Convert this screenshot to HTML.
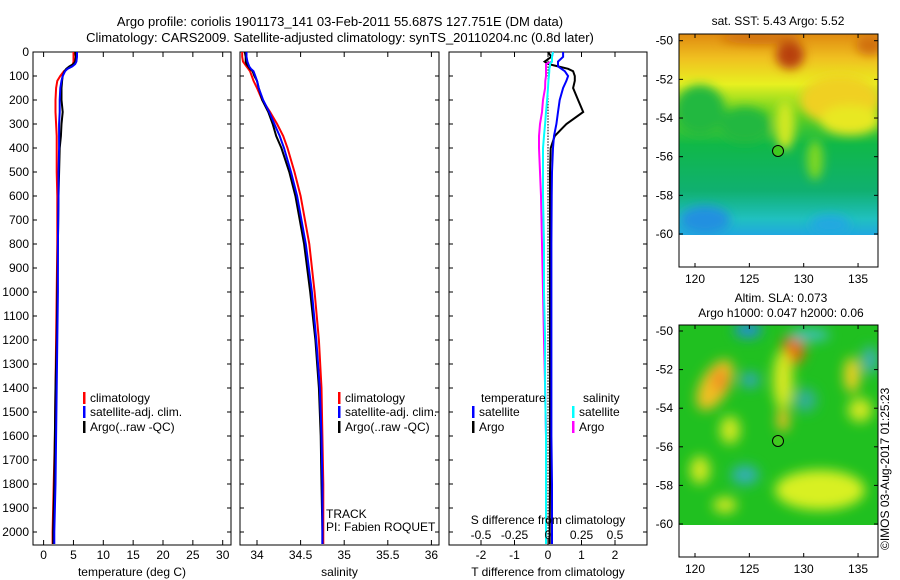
<!DOCTYPE html>
<html><head><meta charset="utf-8"><style>
html,body{margin:0;padding:0;background:#fff;}
svg{display:block;font-family:"Liberation Sans",sans-serif;}
text{font-size:12px;fill:#000;}
</style></head><body>
<svg id="fig" width="900" height="580" viewBox="0 0 900 580">
<defs>
<filter id="blur1" x="-20%" y="-20%" width="140%" height="140%"><feGaussianBlur stdDeviation="5"/></filter>
<filter id="blur2" x="-20%" y="-20%" width="140%" height="140%"><feGaussianBlur stdDeviation="6"/></filter>
<clipPath id="clipMap1"><rect x="679" y="34" width="199" height="201"/></clipPath>
<clipPath id="clipMap2"><rect x="679" y="325" width="199" height="200"/></clipPath>
<linearGradient id="sstGrad" x1="0" y1="0" x2="0" y2="1">
<stop offset="0" stop-color="#e08a10"/><stop offset="0.12" stop-color="#f0c020"/><stop offset="0.25" stop-color="#e8f020"/>
<stop offset="0.4" stop-color="#60d020"/><stop offset="0.55" stop-color="#10b848"/><stop offset="0.78" stop-color="#10b070"/>
<stop offset="0.92" stop-color="#20c0c0"/><stop offset="1" stop-color="#20a8e0"/></linearGradient>
</defs>
<g id="titles">
<text x="340" y="26" text-anchor="middle" style="font-size:13px">Argo profile: coriolis 1901173_141 03-Feb-2011 55.687S 127.751E (DM data)</text>
<text x="340" y="42" text-anchor="middle" style="font-size:13px">Climatology: CARS2009. Satellite-adjusted climatology: synTS_20110204.nc (0.8d later)</text>
</g>
<g id="panels"></g>

<g>
<text x="778" y="25" text-anchor="middle">sat. SST: 5.43 Argo: 5.52</text>
<g clip-path="url(#clipMap1)">
<rect x="679" y="34" width="199" height="201" fill="url(#sstGrad)"/>
<g filter="url(#blur1)">
<ellipse cx="840" cy="100" rx="40" ry="25" fill="#f0d020"/>
<ellipse cx="850" cy="120" rx="30" ry="15" fill="#e8e820"/>
<ellipse cx="790" cy="55" rx="14" ry="14" fill="#b84010"/>
<ellipse cx="870" cy="45" rx="14" ry="10" fill="#d07010"/>
<ellipse cx="760" cy="38" rx="40" ry="6" fill="#d07010"/>
<ellipse cx="785" cy="125" rx="10" ry="25" fill="#d0e820"/>
<ellipse cx="815" cy="160" rx="8" ry="20" fill="#80d820"/>
<ellipse cx="700" cy="110" rx="25" ry="25" fill="#20b840"/>
<ellipse cx="745" cy="125" rx="25" ry="18" fill="#20b840"/>
<ellipse cx="705" cy="220" rx="25" ry="14" fill="#2090e0"/>
<ellipse cx="830" cy="225" rx="20" ry="10" fill="#20a8e0"/>
</g></g>
<rect x="679" y="34" width="199" height="233" fill="none" stroke="#000"/>
<circle cx="778" cy="151" r="5.5" fill="#40c820" stroke="#000"/>
<g id="map1axes"></g>
</g>
<g>
<text x="781" y="302" text-anchor="middle">Altim. SLA: 0.073</text>
<text x="781" y="317" text-anchor="middle">Argo h1000: 0.047 h2000: 0.06</text>
<g clip-path="url(#clipMap2)">
<rect x="679" y="325" width="199" height="200" fill="#20c020"/>
<g filter="url(#blur2)">
<ellipse cx="715" cy="385" rx="14" ry="28" fill="#f0c020" transform="rotate(30 715 385)"/>
<ellipse cx="720" cy="380" rx="8" ry="12" fill="#f09020"/>
<ellipse cx="793" cy="350" rx="12" ry="15" fill="#e07010"/>
<ellipse cx="783" cy="380" rx="10" ry="30" fill="#d8e820"/>
<ellipse cx="783" cy="420" rx="6" ry="12" fill="#f0c020"/>
<ellipse cx="820" cy="490" rx="45" ry="20" fill="#d8f020"/>
<ellipse cx="852" cy="375" rx="8" ry="18" fill="#f0d020"/>
<ellipse cx="730" cy="430" rx="10" ry="14" fill="#d0e820"/>
<ellipse cx="700" cy="470" rx="10" ry="14" fill="#d0e820"/>
<ellipse cx="745" cy="475" rx="14" ry="10" fill="#30b0b0"/>
<ellipse cx="748" cy="330" rx="14" ry="8" fill="#2090d0"/>
<ellipse cx="750" cy="380" rx="10" ry="8" fill="#30a8b0"/>
<ellipse cx="810" cy="335" rx="20" ry="6" fill="#40c0c0"/>
<ellipse cx="805" cy="400" rx="12" ry="12" fill="#30b090"/>
<ellipse cx="870" cy="360" rx="8" ry="14" fill="#40b0b0"/>
<ellipse cx="860" cy="410" rx="12" ry="12" fill="#d0e820"/>
<ellipse cx="725" cy="505" rx="12" ry="8" fill="#d0e820"/>
</g></g>
<rect x="679" y="325" width="199" height="232" fill="none" stroke="#000"/>
<circle cx="778" cy="441" r="5.5" fill="#40c820" stroke="#000"/>
<g id="map2axes"></g>
<text transform="translate(889 550) rotate(-90)" style="font-size:12px">©IMOS 03-Aug-2017 01:25:23</text>
</g>
</svg>
<script>
const depths=[0,20,40,50,60,70,80,100,120,150,200,250,300,350,400,500,600,800,1000,1200,1400,1600,1800,2000,2050];
const tempArgo=[5.3,5.4,5.3,5.0,4.3,3.8,3.5,3.2,3.1,3.0,3.0,3.2,3.0,2.9,2.7,2.6,2.5,2.4,2.3,2.2,2.0,1.9,1.8,1.6,1.6];
const tempSat=[5.6,5.6,5.5,5.3,4.8,4.0,3.6,3.2,3.0,2.8,2.7,2.7,2.6,2.6,2.6,2.5,2.5,2.4,2.4,2.3,2.2,2.1,2.0,1.8,1.8];
const tempClim=[5.0,5.0,5.0,4.9,4.6,4.0,3.4,2.8,2.3,2.1,2.0,2.0,2.1,2.2,2.2,2.2,2.3,2.3,2.2,2.1,2.0,1.9,1.7,1.5,1.5];
const salArgo=[33.86,33.87,33.87,33.88,33.90,33.92,33.95,33.97,34.0,34.02,34.06,34.13,34.18,34.22,34.28,34.37,34.44,34.54,34.61,34.67,34.71,34.73,34.74,34.75,34.75];
const salSat=[33.88,33.88,33.89,33.90,33.91,33.93,33.96,33.98,34.0,34.02,34.07,34.14,34.20,34.26,34.31,34.39,34.46,34.56,34.63,34.68,34.72,34.74,34.75,34.75,34.75];
const salClim=[33.83,33.83,33.84,33.86,33.88,33.90,33.92,33.94,33.96,34.0,34.06,34.15,34.23,34.30,34.35,34.43,34.50,34.60,34.66,34.71,34.74,34.75,34.76,34.76,34.76];
const tdiffSat=[0.45,0.45,0.3,0.3,0.3,0.4,0.5,0.6,0.55,0.45,0.35,0.3,0.25,0.18,0.15,0.12,0.11,0.1,0.1,0.1,0.1,0.1,0.12,0.12,0.12];
const tdiffArgo=[0,0.1,-0.1,0,0.3,0.6,0.75,0.8,0.8,0.75,0.9,1.05,0.55,0.2,0.08,0.06,0.06,0.06,0.06,0.06,0.06,0.06,0.06,0.05,0.05];
const sdiffSat=[0.037,0.03,0.03,0.015,0.015,0.01,0.01,0.007,0.003,0,-0.007,-0.015,-0.022,-0.03,-0.037,-0.037,-0.037,-0.03,-0.03,-0.022,-0.022,-0.015,-0.015,-0.015,-0.015];
const sdiffArgo=[0.037,0.03,0.03,-0.015,-0.015,-0.015,-0.015,-0.015,-0.02,-0.022,-0.037,-0.045,-0.06,-0.067,-0.067,-0.06,-0.052,-0.045,-0.037,-0.03,-0.022,-0.015,-0.015,-0.015,-0.015];
const depthTicks=[0,100,200,300,400,500,600,700,800,900,1000,1100,1200,1300,1400,1500,1600,1700,1800,1900,2000];
const tempTicks=[0,5,10,15,20,25,30];
const salTicks=[34,34.5,35,35.5,36];
const tdiffTicks=[-2,-1,0,1,2];
const sdiffTicks=[-0.5,-0.25,0,0.25,0.5];
const latTicks=[-50,-52,-54,-56,-58,-60];
const lonTicks=[120,125,130,135];

const NS='http://www.w3.org/2000/svg';
const root=document.getElementById('panels');
function el(tag,attrs,parent,txt){const e=document.createElementNS(NS,tag);for(const k in attrs)e.setAttribute(k,attrs[k]);if(txt!==undefined)e.textContent=txt;(parent||root).appendChild(e);return e;}
const yScale=d=>52+d*0.24;
const PT=52,PB=545;
const tempX=v=>43.6+v*5.97;
const salX=v=>257+(v-34)*87.2;
const tdX=v=>548+v*33.5;
const sdX=v=>548+v*134;

function panel(name,L,R,ticksX,scale,xlabel,showY){
  const g=el('g',{},root);
  
  
  el('rect',{x:L,y:PT,width:R-L,height:PB-PT,fill:'none',stroke:'#000'},g);
  depthTicks.forEach(d=>{const y=yScale(d);
    el('line',{x1:L,x2:L+4,y1:y,y2:y,stroke:'#000'},g);
    el('line',{x1:R-4,x2:R,y1:y,y2:y,stroke:'#000'},g);
    if(showY){const t=el('text',{x:L-4,y:y+4,'text-anchor':'end'},g,String(d));
      }
  });
  ticksX.forEach(v=>{const x=scale(v);
    el('line',{x1:x,x2:x,y1:PT,y2:PT+5,stroke:'#000'},g);
    el('line',{x1:x,x2:x,y1:PB-5,y2:PB,stroke:'#000'},g);
    const t=el('text',{x:x,y:559,'text-anchor':'middle'},g,String(v));
    
  });
  const xl=el('text',{x:(L+R)/2,y:576,'text-anchor':'middle'},g,xlabel);
  
  return g;
}
function line(g,vals,scale,color,name){
  const pts=vals.map((v,i)=>scale(v).toFixed(1)+','+yScale(depths[i]).toFixed(1)).join(' ');
  const p=el('polyline',{points:pts,fill:'none',stroke:color,'stroke-width':2},g);
  
}
function legend(g,x,y,color,label){
  el('rect',{x:x,y:y-10,width:2.5,height:12,fill:color},g);
  const t=el('text',{x:x+7,y:y},g,label);
  
}
const g1=panel('temperature-panel',33,231,tempTicks,tempX,'temperature (deg C)',true);
line(g1,tempClim,tempX,'#ff0000','temperature-climatology-line');
line(g1,tempArgo,tempX,'#000000','temperature-argo-line');
line(g1,tempSat,tempX,'#0000ff','temperature-satellite-line');
legend(g1,83,402,'#f00','climatology');legend(g1,83,416,'#00f','satellite-adj. clim.');legend(g1,83,431,'#000','Argo(..raw -QC)');

const g2=panel('salinity-panel',240,439,salTicks,salX,'salinity',false);
line(g2,salClim,salX,'#ff0000','salinity-climatology-line');
line(g2,salArgo,salX,'#000000','salinity-argo-line');
line(g2,salSat,salX,'#0000ff','salinity-satellite-line');
legend(g2,338,402,'#f00','climatology');legend(g2,338,416,'#00f','satellite-adj. clim.');legend(g2,338,431,'#000','Argo(..raw -QC)');
el('text',{x:326,y:518},g2,'TRACK');el('text',{x:326,y:531},g2,'PI: Fabien ROQUET');

const g3=panel('difference-panel',449,647,tdiffTicks,tdX,'T difference from climatology',false);
for(let d=0;d<=2050;d+=12)el('rect',{x:547.5,y:yScale(d),width:1,height:1.5,fill:'#000'},g3);
line(g3,tdiffArgo,tdX,'#000000','tdiff-argo-line');
line(g3,tdiffSat,tdX,'#0000ff','tdiff-satellite-line');
line(g3,sdiffArgo,sdX,'#ff00ff','sdiff-argo-line');
line(g3,sdiffSat,sdX,'#00ffff','sdiff-satellite-line');
el('text',{x:481,y:402},g3,'temperature');el('text',{x:583,y:402},g3,'salinity');
legend(g3,472,416,'#00f','satellite');legend(g3,472,431,'#000','Argo');
legend(g3,572,416,'#0ff','satellite');legend(g3,572,431,'#f0f','Argo');
el('text',{x:548,y:524,'text-anchor':'middle'},g3,'S difference from climatology');
sdiffTicks.forEach(v=>{const t=el('text',{x:sdX(v),y:539,'text-anchor':'middle'},g3,String(v));
  });

function mapAxes(id,top,bottom,lat50,lat60,lonY){
  const g=document.getElementById(id);
  const latY=v=>lat50+(-50-v)*(lat60-lat50)/10;
  const lonX=v=>695+(v-120)*10.87;
  latTicks.forEach(v=>{const y=latY(v);
    el('line',{x1:679,x2:683,y1:y,y2:y,stroke:'#000'},g);el('line',{x1:874,x2:878,y1:y,y2:y,stroke:'#000'},g);
    const t=el('text',{x:673,y:y+4,'text-anchor':'end'},g,String(v));
    });
  lonTicks.forEach(v=>{const x=lonX(v);
    el('line',{x1:x,x2:x,y1:top,y2:top+4,stroke:'#000'},g);el('line',{x1:x,x2:x,y1:bottom-4,y2:bottom,stroke:'#000'},g);
    const t=el('text',{x:x,y:lonY,'text-anchor':'middle'},g,String(v));
    });
}
mapAxes('map1axes',34,267,40.7,234,283);
mapAxes('map2axes',325,557,331,524,573);
</script>
</body></html>
